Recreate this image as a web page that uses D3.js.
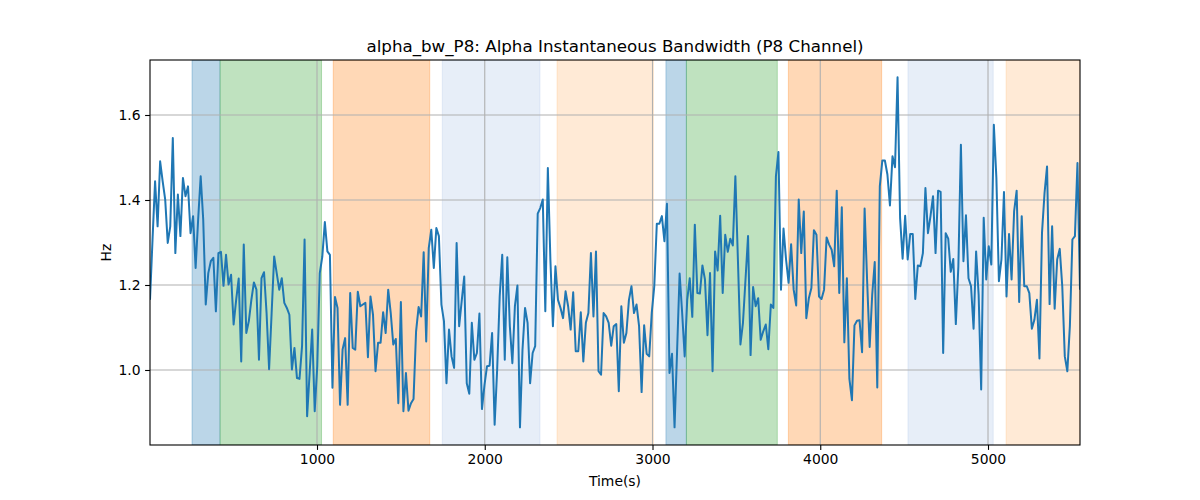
<!DOCTYPE html>
<html>
<head>
<meta charset="utf-8">
<script src="https://cdn.jsdelivr.net/npm/d3@7"></script>
<style>
  html, body { margin: 0; padding: 0; background: #fff; }
  svg { display: block; font-family: "DejaVu Sans", sans-serif; }
</style>
</head>
<body>
<svg id="chart" width="1200" height="500"></svg>
<script>
// ---- data ----
const titleText = "alpha_bw_P8: Alpha Instantaneous Bandwidth (P8 Channel)";
const xLabel = "Time(s)";
const yLabel = "Hz";
const xTicks = [1000, 2000, 3000, 4000, 5000];
const yTicks = [1.0, 1.2, 1.4, 1.6];
const timeStart = 4.47;     // first sample time (s)
const timeEnd = 5548.4;     // last sample time (s)

const bwValues = [
1.165,1.307,1.444,1.338,1.491,1.444,1.401,1.299,1.338,1.546,1.275,1.413,1.315,1.452,1.409,1.432,1.322,1.362,1.240,1.354,
1.456,1.354,1.154,1.228,1.256,1.264,1.138,1.275,1.278,1.198,1.271,1.201,1.224,1.107,1.165,1.215,1.020,1.295,1.087,1.115,
1.165,1.206,1.189,1.024,1.216,1.230,1.134,1.002,1.134,1.267,1.228,1.189,1.216,1.158,1.146,1.130,1.001,1.052,0.981,0.979,
1.056,1.307,0.891,0.993,1.095,0.903,1.009,1.228,1.267,1.348,1.279,1.271,0.958,1.172,1.146,0.918,1.048,1.075,0.918,1.181,
1.052,1.048,1.184,1.150,1.154,1.158,1.030,1.173,1.130,0.997,1.064,1.064,1.136,1.087,1.189,1.134,1.060,1.073,0.922,1.160,
0.903,0.993,0.904,0.922,0.932,1.091,1.148,1.126,1.277,1.067,1.287,1.330,1.240,1.334,1.315,1.154,1.115,0.969,1.095,1.032,
1.005,1.299,1.103,1.162,1.220,0.969,0.944,1.111,1.024,1.040,1.133,0.908,0.965,1.009,1.010,1.087,0.871,1.001,1.173,1.271,
1.024,1.265,1.103,1.016,1.150,1.199,0.865,1.048,1.146,1.111,0.969,1.040,1.056,1.368,1.381,1.401,1.138,1.475,1.260,1.103,
1.244,1.165,1.146,1.122,1.185,1.150,1.095,1.183,1.044,1.044,1.136,1.020,1.111,1.134,1.275,1.126,1.279,0.997,0.989,1.134,
1.126,1.111,1.057,1.103,1.108,0.950,1.150,1.064,1.087,1.165,1.197,1.134,1.154,1.103,0.948,1.105,1.038,1.032,1.134,1.197,
1.344,1.344,1.362,1.303,1.391,0.993,1.038,0.865,1.044,1.227,1.134,1.032,1.165,1.216,1.125,1.342,1.181,1.180,1.246,1.213,
1.082,1.228,0.997,1.279,1.234,1.363,1.181,1.318,1.278,1.309,1.293,1.456,1.260,1.060,1.111,1.213,1.315,1.035,1.195,1.150,
1.169,1.071,1.091,1.107,1.049,1.154,1.146,1.456,1.513,1.189,1.333,1.260,1.205,1.296,1.189,1.152,1.401,1.275,1.373,1.122,
1.169,1.193,1.329,1.318,1.173,1.167,1.189,1.312,1.295,1.283,1.244,1.422,1.181,1.383,1.065,1.216,0.979,0.929,1.105,1.116,
1.117,1.042,1.380,1.209,1.054,1.177,1.254,0.959,1.432,1.493,1.493,1.460,1.387,1.503,1.477,1.689,1.358,1.262,1.363,1.260,
1.320,1.320,1.167,1.246,1.244,1.275,1.428,1.322,1.362,1.409,1.275,1.422,1.419,1.040,1.322,1.309,1.231,1.261,1.108,1.244,
1.530,1.256,1.364,1.216,1.197,1.097,1.279,1.177,0.954,1.358,1.213,1.291,1.248,1.577,1.452,1.209,1.260,1.419,1.173,1.320,
1.213,1.373,1.422,1.160,1.362,1.197,1.197,1.181,1.097,1.118,1.165,1.027,1.322,1.416,1.479,1.155,1.338,1.144,1.260,1.285,
1.197,1.032,0.997,1.103,1.307,1.315,1.487,1.189
];

// shaded intervals (s)
const spanStarts = [255, 422, 1097, 1747, 2431, 3080, 3202, 3810, 4523, 5108];
const spanEnds   = [422, 1027, 1672, 2329, 3005, 3202, 3744, 4366, 5031, 5548.4];
const spanColors = ["#1f77b4", "#2ca02c", "#ff7f0e", "#aec7e8", "#ffbb78",
                    "#1f77b4", "#2ca02c", "#ff7f0e", "#aec7e8", "#ffbb78"];

// ---- layout ----
const margin = {left: 150, right: 120, top: 60, bottom: 55};
const W = 1200, H = 500;
const iw = W - margin.left - margin.right;
const ih = H - margin.top - margin.bottom;

const dt = (timeEnd - timeStart) / (bwValues.length - 1);
const series = bwValues.map((v, i) => ({t: timeStart + i * dt, v}));

const x = d3.scaleLinear().domain([timeStart, timeEnd]).range([0, iw]);
const y = d3.scaleLinear().domain([0.8235, 1.7294]).range([ih, 0]);

const svg = d3.select("#chart");
const g = svg.append("g").attr("transform", `translate(${margin.left},${margin.top})`);

g.append("clipPath").attr("id", "clip").append("rect").attr("width", iw).attr("height", ih);

// spans
g.append("g").attr("clip-path", "url(#clip)")
  .selectAll("rect").data(spanStarts.map((s, i) => ({s, e: spanEnds[i], c: spanColors[i]})))
  .join("rect")
  .attr("x", d => x(d.s)).attr("width", d => x(d.e) - x(d.s))
  .attr("y", 0).attr("height", ih)
  .attr("fill", d => d.c).attr("fill-opacity", 0.3)
  .attr("stroke", d => d.c).attr("stroke-opacity", 0.3).attr("stroke-width", 1);

// grid
const grid = g.append("g");
grid.selectAll(".gx").data(xTicks).join("line")
  .attr("x1", d => x(d)).attr("x2", d => x(d)).attr("y1", 0).attr("y2", ih)
  .attr("stroke", "#b0b0b0").attr("stroke-width", 1.1);
grid.selectAll(".gy").data(yTicks).join("line")
  .attr("y1", d => y(d)).attr("y2", d => y(d)).attr("x1", 0).attr("x2", iw)
  .attr("stroke", "#b0b0b0").attr("stroke-width", 1.1);

// line
const line = d3.line().x(d => x(d.t)).y(d => y(d.v));
g.append("path").datum(series).attr("clip-path", "url(#clip)")
  .attr("d", line).attr("fill", "none")
  .attr("stroke", "#1f77b4").attr("stroke-width", 2).attr("stroke-linejoin", "round");

// axes
const xAxis = d3.axisBottom(x).tickValues(xTicks).tickFormat(d3.format("d")).tickSize(4.9).tickPadding(4.5);
const yAxis = d3.axisLeft(y).tickValues(yTicks).tickFormat(d3.format(".1f")).tickSize(4.9).tickPadding(4.5);
const gx = g.append("g").attr("transform", `translate(0,${ih})`).call(xAxis);
const gy = g.append("g").call(yAxis);
[gx, gy].forEach(a => {
  a.select(".domain").remove();
  a.selectAll("line").attr("stroke", "#000").attr("stroke-width", 1.1);
  a.selectAll("text").attr("font-size", "13.9px").attr("fill", "#000")
    .attr("font-family", "DejaVu Sans, sans-serif");
});

// frame
g.append("rect").attr("width", iw).attr("height", ih)
  .attr("fill", "none").attr("stroke", "#000").attr("stroke-width", 1.1);

// labels
svg.append("text").attr("x", margin.left + iw / 2).attr("y", 52)
  .attr("text-anchor", "middle").attr("font-size", "16.7px").text(titleText);
svg.append("text").attr("x", margin.left + iw / 2).attr("y", 486)
  .attr("text-anchor", "middle").attr("font-size", "13.9px").text(xLabel);
svg.append("text").attr("transform", `translate(111,${margin.top + ih / 2}) rotate(-90)`)
  .attr("text-anchor", "middle").attr("font-size", "13.9px").text(yLabel);
</script>
</body>
</html>
